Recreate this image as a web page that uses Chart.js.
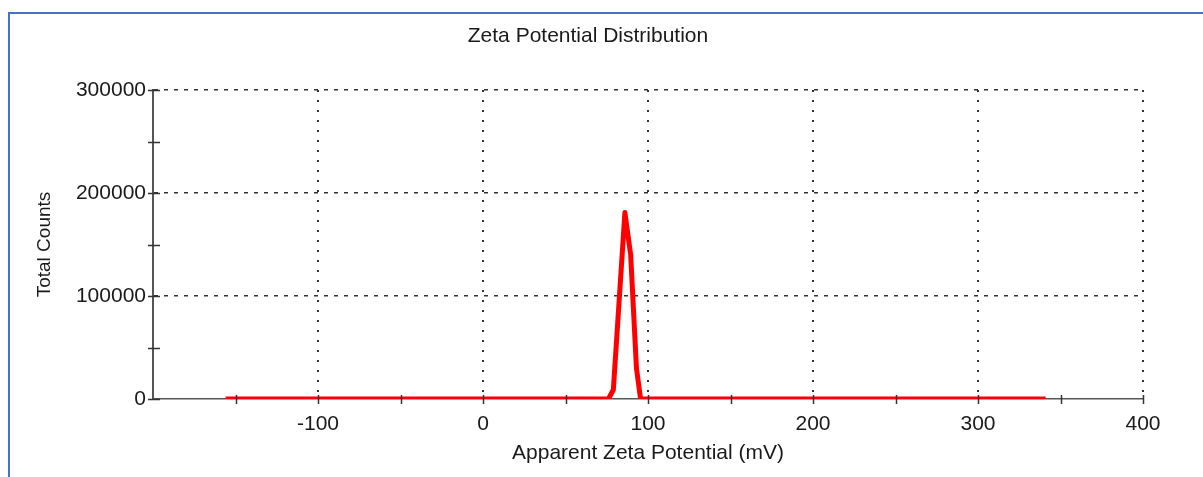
<!DOCTYPE html>
<html>
<head>
<meta charset="utf-8">
<script src="https://cdn.jsdelivr.net/npm/chart.js@4/dist/chart.umd.min.js"></script>
<style>
  html, body { margin: 0; padding: 0; background: #fff; }
  #wrap { position: relative; width: 1203px; height: 477px; overflow: hidden; }
  #frame { position: absolute; left: 8px; top: 12px; width: 1300px; height: 600px;
           border-top: 2px solid #4472C4; border-left: 2px solid #4472C4; pointer-events: none; }
</style>
</head>
<body>
<div id="wrap">
  <canvas id="c" width="1203" height="477"></canvas>
  <div id="frame"></div>
</div>
<script>
// ---- data ----
const zetaMv = [-156, -92, -70, 76, 79, 86, 89.5, 93, 95.5, 341];
const totalCounts = [0, 0, 0, 0, 9000, 181000, 140000, 30000, 0, 0];
const xTickLabels = [-100, 0, 100, 200, 300, 400];
const yTickLabels = [0, 100000, 200000, 300000];

const chartTitle = 'Zeta Potential Distribution';
const xTitle = 'Apparent Zeta Potential (mV)';
const yTitle = 'Total Counts';

const FONT = "'Liberation Sans', Arial, sans-serif";
const TEXT = '#1a1a1a';
const AXIS = '#555';
const GRID = '#333';

const points = zetaMv.map((x, i) => ({ x: x, y: totalCounts[i] }));

const crossTicks = {
  id: 'crossTicks',
  afterDraw(chart) {
    const ctx = chart.ctx;
    const xs = chart.scales.x, ys = chart.scales.y;
    const y0 = ys.getPixelForValue(0);
    const x0 = xs.left;
    ctx.save();
    ctx.strokeStyle = '#333';
    ctx.lineWidth = 1.5;
    ctx.beginPath();
    for (let v = -150; v <= 400; v += 50) {
      const px = Math.round(xs.getPixelForValue(v)) + 0.5;
      ctx.moveTo(px, y0 - 4);
      ctx.lineTo(px, y0 + 5);
    }
    for (let v = 0; v <= 300000; v += 50000) {
      const py = Math.round(ys.getPixelForValue(v)) + 0.5;
      ctx.moveTo(x0 - 5, py);
      ctx.lineTo(x0 + 7, py);
    }
    ctx.stroke();
    ctx.restore();
  }
};

new Chart(document.getElementById('c'), {
  type: 'scatter',
  data: {
    datasets: [{
      data: points,
      showLine: true,
      borderColor: '#ff0000',
      backgroundColor: '#ff0000',
      borderWidth: 5,
      borderJoinStyle: 'round',
      borderCapStyle: 'butt',
      pointRadius: 0,
      tension: 0,
      fill: false
    }]
  },
  options: {
    responsive: false,
    animation: false,
    events: [],
    layout: { padding: { left: 33, right: 60, top: 0, bottom: 0 } },
    plugins: {
      legend: { display: false },
      tooltip: { enabled: false },
      title: {
        display: true,
        text: chartTitle,
        color: TEXT,
        font: { family: FONT, size: 21, weight: 'normal', lineHeight: 1.2 },
        padding: { top: 24, bottom: 40.8 }
      }
    },
    scales: {
      x: {
        type: 'linear',
        min: -200,
        max: 400,
        afterFit(scale) { scale.height = 78; },
        ticks: {
          stepSize: 50,
          autoSkip: false,
          maxRotation: 0,
          padding: 13,
          color: TEXT,
          font: { family: FONT, size: 21 },
          callback: v => xTickLabels.includes(v) ? String(v) : ''
        },
        grid: {
          drawTicks: false,
          lineWidth: 2,
          color: c => (c.tick && xTickLabels.includes(c.tick.value)) ? GRID : 'rgba(0,0,0,0)'
        },
        border: { display: true, color: AXIS, width: 1.5, dash: [2, 8] },
        title: {
          display: true,
          text: xTitle,
          color: TEXT,
          font: { family: FONT, size: 21, lineHeight: 1.2 },
          padding: { top: 0, bottom: 11 }
        }
      },
      y: {
        min: 0,
        max: 300000,
        afterFit(scale) { scale.width = 120; },
        ticks: {
          stepSize: 50000,
          autoSkip: false,
          padding: 7,
          color: TEXT,
          font: { family: FONT, size: 21 },
          callback: v => yTickLabels.includes(v) ? String(v) : ''
        },
        grid: {
          drawTicks: false,
          lineWidth: 1.5,
          color: c => (c.tick && c.tick.value > 0 && yTickLabels.includes(c.tick.value)) ? GRID : 'rgba(0,0,0,0)'
        },
        border: { display: true, color: AXIS, width: 2, dash: [4, 6] },
        title: {
          display: true,
          text: yTitle,
          color: TEXT,
          font: { family: FONT, size: 19, lineHeight: 1.2 },
          padding: { top: 0, bottom: 0 }
        }
      }
    }
  },
  plugins: [crossTicks]
});
</script>
</body>
</html>
